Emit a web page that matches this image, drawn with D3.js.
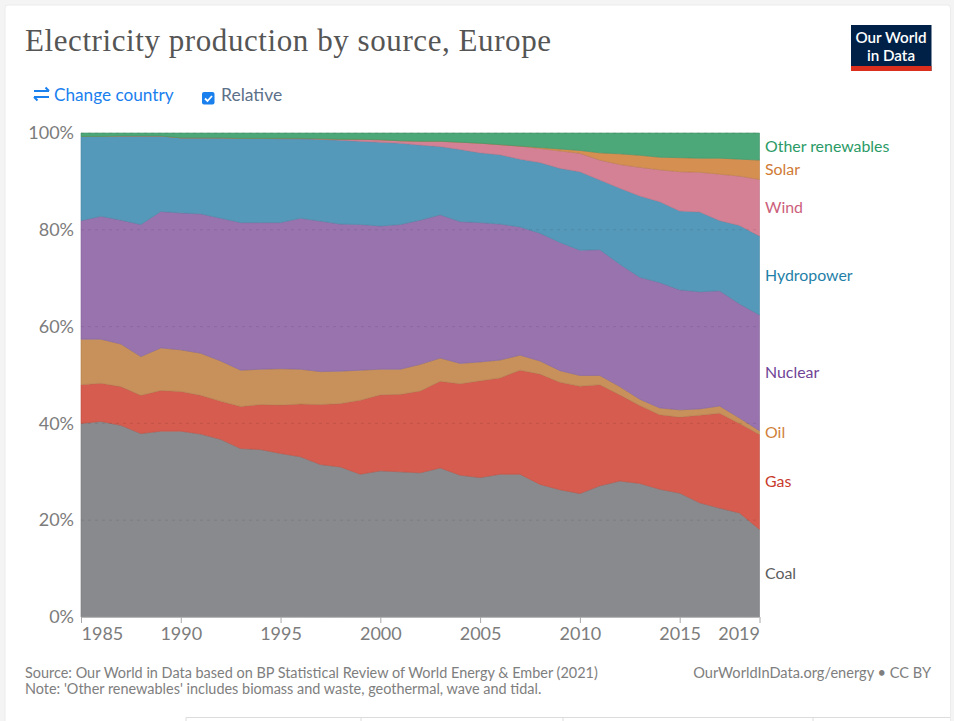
<!DOCTYPE html>
<html>
<head>
<meta charset="utf-8">
<script src="https://cdn.jsdelivr.net/npm/d3@7"></script>
<style>
html, body { margin: 0; padding: 0; background: #fff; }
svg { display: block; }
text { font-family: Lato, sans-serif; }
</style>
</head>
<body>
<div id="container"></div>
<script>
// share of electricity production, %
const years = d3.range(1985, 2020);
const coal = [40.0,40.4,39.6,37.9,38.4,38.4,37.8,36.7,34.8,34.6,33.8,33.1,31.5,31.0,29.5,30.2,30.0,29.8,30.8,29.3,28.8,29.5,29.5,27.4,26.3,25.5,27.1,28.1,27.6,26.4,25.6,23.6,22.5,21.5,18.1];
const gas = [8.0,7.9,8.0,7.9,8.4,8.2,8.0,7.9,8.7,9.3,10.0,10.9,12.4,13.1,15.3,15.7,16.0,16.9,17.9,18.9,20.0,19.9,21.5,22.8,22.2,22.2,20.9,17.8,16.1,15.4,15.7,18.1,19.6,18.5,19.6];
const oil = [9.4,9.1,8.8,8.0,8.8,8.6,8.7,8.3,7.5,7.3,7.5,7.2,6.8,6.7,6.2,5.3,5.2,5.5,4.8,4.2,3.9,3.7,3.1,2.7,2.4,2.2,1.9,1.7,1.3,1.4,1.5,1.3,1.5,1.1,0.8];
const nuclear = [24.5,25.4,25.6,27.3,28.2,28.3,28.8,29.5,30.5,30.3,30.2,31.2,31.1,30.4,30.1,29.6,29.9,29.8,29.6,29.3,28.8,28.1,26.5,26.4,26.5,25.9,26.0,25.3,25.2,25.9,24.8,24.2,23.8,23.6,23.9];
const hydro = [17.4,16.5,17.4,18.3,15.6,15.5,15.7,16.6,17.4,17.4,17.3,16.4,16.9,17.3,17.2,17.3,16.8,15.5,14.1,14.9,14.4,14.3,14.0,14.6,15.3,16.2,14.4,15.7,16.8,16.7,16.3,16.5,14.5,16.2,16.3];
const wind = [0,0,0,0,0,0,0,0,0,0,0.1,0.1,0.1,0.2,0.4,0.5,0.5,0.8,1.1,1.5,2.0,2.1,2.7,2.9,3.6,3.8,4.1,4.9,5.9,6.6,8.1,8.2,9.6,10.2,11.7];
const solar = [0,0,0,0,0,0,0,0,0,0,0,0,0,0,0,0,0,0,0,0,0,0,0,0.2,0.4,0.6,1.5,2.2,2.5,2.6,2.9,2.9,3.3,3.5,4.0];
const other = [0.7,0.7,0.6,0.6,0.6,1.0,1.0,1.0,1.1,1.1,1.1,1.1,1.2,1.3,1.3,1.4,1.6,1.7,1.7,1.9,2.1,2.4,2.7,3.0,3.3,3.6,4.1,4.3,4.6,5.0,5.1,5.2,5.2,5.4,5.6];

const sources = ['Coal', 'Gas', 'Oil', 'Nuclear', 'Hydropower', 'Wind', 'Solar', 'Other renewables'];
const sourceValues = [coal, gas, oil, nuclear, hydro, wind, solar, other];
const fills = ['#888a8e', '#d55c4e', '#c8905a', '#9873ae', '#5499ba', '#d48196', '#d58f50', '#4ca878'];
const labelColors = ['#5b5d60', '#c83a2c', '#cf7f3a', '#6f4396', '#1f7fa8', '#cc5f7b', '#d07a34', '#2a9a66'];
const xTicks = [1985, 1990, 1995, 2000, 2005, 2010, 2015, 2019];
const yTicks = [0, 0.2, 0.4, 0.6, 0.8, 1];

const width = 954, height = 721;
const plotLeft = 81, plotRight = 759.5, plotTop = 133, plotBottom = 617;

const svg = d3.select('#container').append('svg')
    .attr('width', width)
    .attr('height', height);

//Page background and card.
svg.append('rect').attr('width', width).attr('height', height).attr('fill', '#f4f4f4');
svg.append('rect')
    .attr('x', 5).attr('y', 5)
    .attr('width', 945.5).attr('height', height)
    .attr('rx', 3)
    .attr('fill', '#fff')
    .attr('stroke', '#ececec');

//Tabs along the bottom edge.
const tabEdges = [186, 361, 563, 813];
svg.append('line')
    .attr('x1', 186).attr('x2', 950)
    .attr('y1', 717.5).attr('y2', 717.5)
    .attr('stroke', '#dcdcdc');
svg.selectAll('.tab').data(tabEdges).join('line')
    .attr('x1', d => d).attr('x2', d => d)
    .attr('y1', 717.5).attr('y2', height)
    .attr('stroke', '#dcdcdc');

svg.append('text')
    .attr('x', 25).attr('y', 51)
    .attr('fill', '#555')
    .style('font-family', '"Liberation Serif", serif')
    .style('font-size', '31px')
    .attr('textLength', 526)
    .text('Electricity production by source, Europe');

//Logo.
const logo = svg.append('g');
logo.append('rect').attr('x', 851).attr('y', 25).attr('width', 80.5).attr('height', 46).attr('fill', '#002147');
logo.append('rect').attr('x', 851).attr('y', 66).attr('width', 80.5).attr('height', 5).attr('fill', '#dc2e1c');
logo.selectAll('text').data(['Our World', 'in Data']).join('text')
    .attr('x', 891)
    .attr('y', (d, i) => 42.5 + i * 18.5)
    .attr('text-anchor', 'middle')
    .attr('fill', '#fff')
    .style('font-size', '15.2px')
    .style('font-weight', 600)
    .text(d => d);

//Controls.
const blue = '#1a80ee';
svg.append('path')
    .attr('d', 'M34 91H49M45.5 87.5L49 91M34 97H49M37.5 100.5L34 97')
    .attr('fill', 'none')
    .attr('stroke', blue)
    .attr('stroke-width', 2);
svg.append('text')
    .attr('x', 54).attr('y', 100.5)
    .attr('fill', blue)
    .style('font-size', '17.2px')
    .text('Change country');
svg.append('rect')
    .attr('x', 202).attr('y', 92)
    .attr('width', 12.5).attr('height', 12.5)
    .attr('rx', 2)
    .attr('fill', blue);
svg.append('path')
    .attr('d', 'M205 98.5l2.5 2.5l4.5-5')
    .attr('fill', 'none')
    .attr('stroke', '#fff')
    .attr('stroke-width', 1.8);
svg.append('text')
    .attr('x', 221).attr('y', 100.5)
    .attr('fill', '#5b7089')
    .style('font-size', '17.5px')
    .text('Relative');

//Scales and stack.
const x = d3.scaleLinear().domain([1985, 2019]).range([plotLeft, plotRight]);
const y = d3.scaleLinear().domain([0, 1]).range([plotBottom, plotTop]);

const table = years.map((year, i) => {
    const row = { year };
    sources.forEach((s, j) => { row[s] = sourceValues[j][i]; });
    return row;
});

const series = d3.stack()
    .keys(sources)
    .offset(d3.stackOffsetExpand)(table);

const area = d3.area()
    .x(d => x(d.data.year))
    .y0(d => y(d[0]))
    .y1(d => y(d[1]));

svg.selectAll('.band').data(series).join('path')
    .attr('class', 'band')
    .attr('d', area)
    .attr('fill', (d, i) => fills[i])
    .attr('stroke', (d, i) => d3.color(fills[i]).darker(0.35))
    .attr('stroke-width', 0.6);

//Dashed grid over the areas.
svg.selectAll('.grid').data(yTicks.slice(1)).join('line')
    .attr('class', 'grid')
    .attr('x1', plotLeft).attr('x2', plotRight)
    .attr('y1', d => y(d)).attr('y2', d => y(d))
    .attr('stroke', '#000')
    .attr('stroke-opacity', 0.09)
    .attr('stroke-dasharray', '3,4');

//Axes.
const yAxis = d3.axisLeft(y)
    .tickValues(yTicks)
    .tickFormat(d3.format('.0%'))
    .tickSize(0)
    .tickPadding(7);
const yG = svg.append('g').attr('transform', `translate(${plotLeft},0)`).call(yAxis);
yG.select('.domain').remove();
yG.selectAll('text')
    .attr('fill', '#7c7c7c')
    .style('font-size', '18px');

const xAxis = d3.axisBottom(x)
    .tickValues(xTicks)
    .tickFormat(d3.format('d'))
    .tickSize(6)
    .tickPadding(4);
const xG = svg.append('g').attr('transform', `translate(0,${plotBottom})`).call(xAxis);
xG.select('.domain').attr('stroke', '#9a9a9a').attr('d', `M${plotLeft},0H${plotRight}`);
xG.selectAll('line').attr('stroke', '#a8a8a8');
xG.selectAll('text')
    .attr('fill', '#7c7c7c')
    .style('font-size', '18px')
    .attr('text-anchor', d => d === 1985 ? 'start' : d === 2019 ? 'end' : 'middle');

//Series labels sit at the middle of each band in the last year.
svg.selectAll('.label').data(series).join('text')
    .attr('class', 'label')
    .attr('x', plotRight + 5.5)
    .attr('y', d => {
        const last = d[d.length - 1];
        return y((last[0] + last[1]) / 2);
    })
    .attr('dy', '0.34em')
    .attr('fill', (d, i) => labelColors[i])
    .style('font-size', '15.9px')
    .text(d => d.key);

//Footer.
const footerColor = '#7e7e7e';
svg.selectAll('.note')
    .data([
        "Source: Our World in Data based on BP Statistical Review of World Energy & Ember (2021)",
        "Note: 'Other renewables' includes biomass and waste, geothermal, wave and tidal."
    ])
    .join('text')
    .attr('class', 'note')
    .attr('x', 25)
    .attr('y', (d, i) => 678 + i * 16)
    .attr('fill', footerColor)
    .style('font-size', '14.45px')
    .text(d => d);
svg.append('text')
    .attr('x', 931).attr('y', 678)
    .attr('text-anchor', 'end')
    .attr('fill', footerColor)
    .style('font-size', '14.6px')
    .text('OurWorldInData.org/energy • CC BY');
</script>
</body>
</html>
